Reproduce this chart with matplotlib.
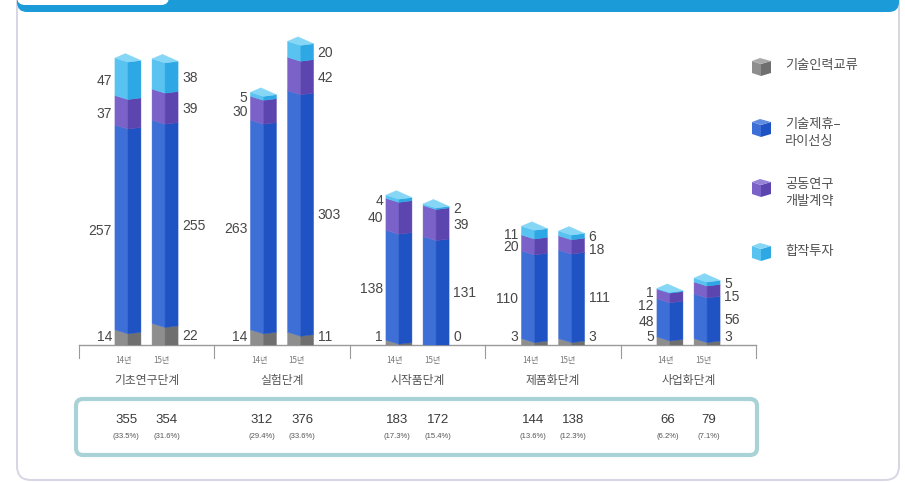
import matplotlib
matplotlib.use("Agg")
import matplotlib.pyplot as plt
from matplotlib.patches import FancyBboxPatch, Polygon
from matplotlib.transforms import Affine2D
import numpy as np

plt.rcParams['font.family'] = ['Noto Sans CJK KR', 'DejaVu Sans']

W, H = 905, 482

stages = ['기초연구단계', '실험단계', '시작품단계', '제품화단계', '사업화단계']
years = ['14년', '15년']
series_names = ['기술인력교류', '기술제휴–\n라이선싱', '공동연구\n개발계약', '합작투자']

# counts per stage, [14년, 15년]
personnel = [[14, 22], [14, 11], [1, 0], [3, 3], [5, 3]]
licensing = [[257, 255], [263, 303], [138, 131], [110, 111], [48, 56]]
joint_rnd = [[37, 39], [30, 42], [40, 39], [20, 18], [12, 15]]
joint_venture = [[47, 38], [5, 20], [4, 2], [11, 6], [1, 5]]

# (left face, right face, top face)
palette = [('#8e8e8e', '#6f6f6f', '#a9a9a9'),
           ('#3d6fd6', '#1f52c2', '#5f8be0'),
           ('#7a62c9', '#5d45b0', '#9582d6'),
           ('#58c2f0', '#2ea8e4', '#86d6f6')]
label_color = '#474747'
num_font = ['Liberation Sans', 'DejaVu Sans']

segments = np.array([personnel, licensing, joint_rnd, joint_venture])  # series, stage, year
totals = segments.sum(axis=0)
shares = totals / totals.sum(axis=0) * 100

PX = 0.797          # pixels per unit
U = 1 / PX          # units per pixel
BAR_W = 0.192
OFF = 0.137

fig = plt.figure(figsize=(W / 100, H / 100), dpi=100)
ax = fig.add_axes([0, 0, 1, 1])
ax.set_xlim(-146.5 / 135.5, (W - 146.5) / 135.5)
ax.set_ylim((345 - H) / PX, 345 / PX)
ax.axis('off')

pix = Affine2D().scale(1, -1).translate(0, H)

# card frame and header strip
ax.add_patch(FancyBboxPatch((17, -20), 882, 500, boxstyle='round,pad=0,rounding_size=14',
                            fc='white', ec='#d6d6e4', lw=1.4, transform=pix, zorder=0))
ax.add_patch(FancyBboxPatch((17, -20), 882, 32, boxstyle='round,pad=0,rounding_size=10',
                            fc='#1b9bd7', ec='none', transform=pix, zorder=1))
ax.add_patch(FancyBboxPatch((17, -20), 152, 25, boxstyle='round,pad=0,rounding_size=8',
                            fc='white', ec='none', transform=pix, zorder=1))


def draw_bar(x, values):
    xl, xr = x - BAR_W / 2, x + BAR_W / 2
    xs = x
    sl, sr = 4 * U, 1.6 * U
    base = 0
    top_colors = None
    for val, (cl, cr, ct) in zip(values, palette):
        if val == 0:
            continue
        top = base + val
        bl = base + sl if base > 0 else 0
        br = base + sr if base > 0 else 0
        ax.add_patch(Polygon([(xl, bl), (xs, base), (xs, top), (xl, top + sl)],
                             fc=cl, ec=cl, lw=0.3, zorder=3))
        ax.add_patch(Polygon([(xs, base), (xr, br), (xr, top + sr), (xs, top)],
                             fc=cr, ec=cr, lw=0.3, zorder=3))
        base = top
        top_colors = ct
    ax.add_patch(Polygon([(xl, base + sl), (xl + 0.4 * BAR_W, base + 8.5 * U),
                          (xr, base + sr), (xs, base)],
                         fc=top_colors, ec=top_colors, lw=0.3, zorder=3))


def label_heights(values):
    cum = np.cumsum(values)
    mids = cum - np.array(values) / 2
    ys = [max(mids[0], 10)]
    upper = []
    prev = None
    for i in (3, 2, 1):
        y = mids[i] if prev is None else min(mids[i], prev - 16)
        upper.append(y)
        prev = y
    return ys + upper[::-1]


for g in range(len(stages)):
    for k in range(2):
        x = g + (-OFF if k == 0 else OFF)
        vals = segments[:, g, k]
        draw_bar(x, vals)
        ys = label_heights(vals)
        if k == 0:
            lx, ha = x - BAR_W / 2 - 3 / 135.5, 'right'
        else:
            lx, ha = x + BAR_W / 2 + 4 / 135.5, 'left'
        for v, y in zip(vals, ys):
            ax.text(lx, y, str(v), ha=ha, va='center', fontsize=10,
                    family=num_font, color=label_color, zorder=4)
        ax.text(x - 0.03, -20, years[k], ha='center', va='center', fontsize=5.8,
                color='#777777')
        # totals and shares in the summary box
        tx = g + (-0.15 if k == 0 else 0.15)
        ax.text(tx, -94, str(totals[g, k]), ha='center', va='center', fontsize=9.5,
                family=num_font, color='#3a3a3a')
        ax.text(tx, -115, f'({shares[g, k]:.1f}%)', ha='center', va='center', fontsize=5.5,
                family=num_font, color='#555555')
    ax.text(g, -44, stages[g], ha='center', va='center', fontsize=8.5, color='#555555')

# baseline and group separators
bounds = np.arange(len(stages) + 1) - 0.5
ax.plot([bounds[0], bounds[-1]], [0, 0], color='#9a9a9a', lw=1, zorder=2)
for b in bounds:
    ax.plot([b, b], [0, -16], color='#9a9a9a', lw=0.8, zorder=2)

# summary box
ax.add_patch(FancyBboxPatch((76, 399), 681, 56, boxstyle='round,pad=0,rounding_size=7',
                            fc='white', ec='#a9d2d6', lw=3, transform=pix, zorder=1))

# legend with little cubes
legend_y = [66, 127, 187, 251]
for (cl, cr, ct), name, y in zip(palette, series_names, legend_y):
    x0 = 752
    ax.add_patch(Polygon([(x0, y - 5), (x0 + 9, y - 2), (x0 + 9, y + 10), (x0, y + 7)],
                         fc=cl, ec='none', transform=pix, zorder=3))
    ax.add_patch(Polygon([(x0 + 9, y - 2), (x0 + 19, y - 5), (x0 + 19, y + 7), (x0 + 9, y + 10)],
                         fc=cr, ec='none', transform=pix, zorder=3))
    ax.add_patch(Polygon([(x0, y - 5), (x0 + 8, y - 8), (x0 + 19, y - 5), (x0 + 9, y - 2)],
                         fc=ct, ec='none', transform=pix, zorder=3))
    ax.text(785, y - 9 if '\n' in name else y, name, ha='left',
            va='top' if '\n' in name else 'center',
            fontsize=9.5, color='#505050', linespacing=1.45, transform=pix)

fig.savefig('out.png', dpi=100)
